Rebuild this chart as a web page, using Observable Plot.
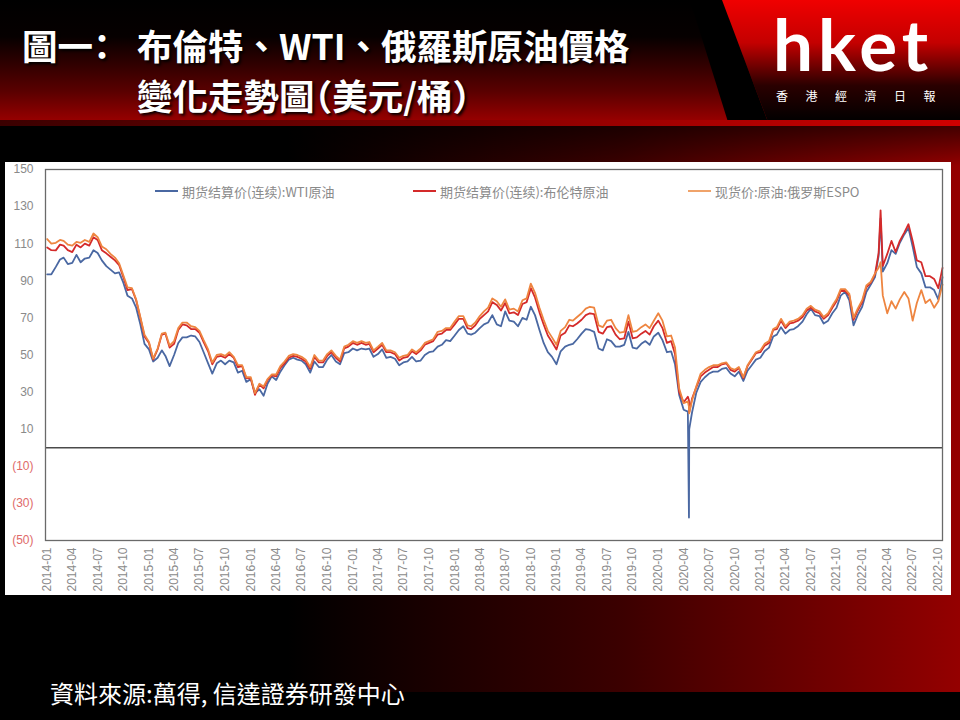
<!DOCTYPE html>
<html>
<head>
<meta charset="utf-8">
<script src="https://cdn.jsdelivr.net/npm/d3@7"></script>
<script src="https://cdn.jsdelivr.net/npm/@observablehq/plot@0.6"></script>
<style>
  html, body { margin: 0; padding: 0; background: #000; }
  #page { position: relative; width: 960px; height: 720px; overflow: hidden; background: #000; }
  #bg { position: absolute; left: 0; top: 0; }
  .title { position: absolute; color: #fff; font-family: "Noto Sans CJK TC", sans-serif; font-weight: 700;
           font-size: 35.5px; line-height: 40px; white-space: nowrap; text-shadow: 2px 2px 3px #000; }
  .halt { font-feature-settings: "halt"; }
  .logo { position: absolute; left: 773px; top: 14px; color: #fff; font-family: Lato, sans-serif;
          font-weight: 700; font-size: 71px; line-height: 60px; letter-spacing: 5px; white-space: nowrap; }
  .logosub { position: absolute; left: 776px; top: 89px; color: #fff; font-family: "Noto Sans CJK TC", sans-serif;
             font-size: 12px; line-height: 14px; letter-spacing: 17.5px; white-space: nowrap; }
  #panel { position: absolute; left: 5px; top: 162px; width: 946px; height: 433px; background: #fff; }
  .leg { position: absolute; top: 182px; height: 18px; display: flex; align-items: center;
         font-family: "Noto Sans CJK SC", sans-serif; font-size: 13px; color: #8a8a8a; white-space: nowrap; }
  .leg i { display: inline-block; width: 23px; height: 2px; margin-right: 4px; }
  .caption { position: absolute; left: 50px; top: 677px; color: #fff; font-family: "Noto Sans CJK TC", sans-serif;
             font-size: 24px; line-height: 32px; white-space: nowrap; }
</style>
</head>
<body>
<div id="page">
  <svg id="bg" width="960" height="720">
    <defs>
      <linearGradient id="hdr" x1="0" y1="0" x2="0" y2="1">
        <stop offset="0" stop-color="#000"/>
        <stop offset="0.3" stop-color="#060000"/>
        <stop offset="0.75" stop-color="#5a0000"/>
        <stop offset="1" stop-color="#9a0000"/>
      </linearGradient>
      <linearGradient id="logo" x1="0" y1="0" x2="0" y2="1">
        <stop offset="0" stop-color="#f00000"/>
        <stop offset="0.35" stop-color="#c40000"/>
        <stop offset="0.7" stop-color="#2a0000"/>
        <stop offset="1" stop-color="#000"/>
      </linearGradient>
      <linearGradient id="stripe" x1="0" y1="0" x2="1" y2="0">
        <stop offset="0" stop-color="#3a0000"/>
        <stop offset="1" stop-color="#d00000"/>
      </linearGradient>
      <linearGradient id="body" x1="0" y1="0" x2="1" y2="0">
        <stop offset="0" stop-color="#000"/>
        <stop offset="0.3" stop-color="#000"/>
        <stop offset="0.65" stop-color="#3c0000"/>
        <stop offset="1" stop-color="#940000"/>
      </linearGradient>
      <linearGradient id="topdark" x1="0" y1="0" x2="0" y2="1">
        <stop offset="0" stop-color="#000" stop-opacity="0.55"/>
        <stop offset="1" stop-color="#000" stop-opacity="0"/>
      </linearGradient>
    </defs>
    <rect x="0" y="0" width="960" height="122" fill="url(#hdr)"/>
    <polygon points="690,0 722,0 768,122 728,122" fill="#000"/>
    <polygon points="722,0 960,0 960,122 768,122" fill="url(#logo)"/>
    <rect x="0" y="120" width="960" height="6" fill="url(#stripe)"/>
    <rect x="0" y="126" width="960" height="566" fill="url(#body)"/>
    <rect x="0" y="126" width="960" height="40" fill="url(#topdark)"/>
    <rect x="0" y="692" width="960" height="28" fill="#000"/>
  </svg>

  <div class="title halt" style="left:22px; top:25px;">圖一：</div>
  <div class="title" style="left:137px; top:25px;">布倫特、WTI、俄羅斯原油價格</div>
  <div class="title halt" style="left:137px; top:75px;">變化走勢圖（美元/桶）</div>
  <div class="logo">hket</div>
  <div class="logosub">香港經濟日報</div>

  <div id="panel"></div>

  <div class="leg" style="left:155px;"><i style="background:#4a68a2"></i>期货结算价(连续):WTI原油</div>
  <div class="leg" style="left:413px;"><i style="background:#d42a2a"></i>期货结算价(连续):布伦特原油</div>
  <div class="leg" style="left:688px;"><i style="background:#f0a36a"></i>现货价:原油:俄罗斯ESPO</div>

  <div class="caption">資料來源:萬得, 信達證券研發中心</div>
</div>

<script>
// ---- Data (semi-monthly readings: 1st and 16th of each month, Jan 2014 - Oct 2022) ----
const seriesNames = ["期货结算价(连续):WTI原油", "期货结算价(连续):布伦特原油", "现货价:原油:俄罗斯ESPO"];

const brent = [
  108.0,106.5,106.4,109.5,109.0,106.5,105.5,109.5,108.0,110.0,109.0,113.5,112.0,106.5,104.8,103.0,101.0,98.5,92.0,85.0,85.5,79.5,70.0,60.0,
  56.5,47.5,53.0,61.0,61.5,54.0,56.0,63.5,66.5,66.0,64.0,64.0,62.0,57.0,52.0,45.0,49.0,49.5,48.5,50.5,48.5,43.5,44.0,37.5,
  37.3,28.5,34.0,32.0,36.5,39.0,38.5,43.0,45.5,48.5,49.5,49.0,48.0,46.5,42.5,49.0,46.0,46.0,49.5,51.5,48.5,46.5,53.5,54.5,
  56.5,55.5,56.5,55.5,56.0,51.5,53.5,55.5,51.5,51.5,50.5,47.0,48.5,49.0,52.0,50.5,52.5,55.5,56.5,57.5,61.0,61.5,63.5,63.5,
  66.5,69.5,69.5,64.5,64.0,66.0,69.5,71.5,73.5,78.5,77.0,74.0,78.0,72.5,73.0,71.5,77.5,78.5,86.0,81.0,73.0,66.5,60.5,57.0,
  53.0,60.5,62.0,66.0,65.5,67.0,69.0,71.5,72.5,72.0,62.5,61.5,65.0,65.5,61.0,58.5,59.0,68.0,59.0,59.5,61.5,63.0,61.0,65.5,
  68.5,64.5,56.5,57.5,50.5,30.0,24.5,27.5,26.5,32.5,38.5,40.5,42.0,43.5,43.5,45.0,45.5,42.0,41.0,43.0,37.5,44.0,47.5,51.0,
  51.5,55.0,56.5,63.5,64.0,68.5,64.5,67.0,67.5,68.5,70.5,74.0,75.5,73.5,72.5,69.5,71.5,75.5,79.0,84.5,84.5,82.0,69.0,74.0,
  78.5,86.5,89.0,93.5,105.0,98.0,104.5,111.5,105.5,111.5,116.0,120.5,111.5,101.0,100.0,92.5,92.5,91.0,86.0,97.0
];
const wti = [
  93.5,93.5,97.5,101.5,102.5,99.0,99.7,104.0,100.0,102.0,102.5,106.5,105.0,101.0,97.9,96.0,94.0,94.5,89.0,82.0,80.5,75.5,66.5,56.0,
  53.0,46.5,48.5,52.5,49.5,44.0,50.0,56.5,59.5,59.5,60.5,60.0,57.0,51.5,45.5,40.0,45.5,47.0,45.0,47.0,46.0,40.5,41.5,35.5,
  37.0,29.5,31.5,28.0,34.5,38.5,36.5,41.0,44.5,47.5,48.5,47.5,47.0,45.0,40.5,46.5,43.5,43.5,47.5,50.0,46.5,45.0,51.0,51.5,
  53.5,52.5,53.5,53.0,53.5,49.0,50.5,53.0,48.5,49.0,48.0,44.5,46.0,46.5,49.0,46.5,47.0,50.0,51.5,52.0,54.5,55.5,58.0,57.5,
  60.5,63.5,65.5,61.5,61.0,62.0,64.5,66.5,67.5,71.5,66.5,65.5,73.5,68.5,68.0,65.5,70.0,69.0,76.0,71.5,63.5,56.5,51.5,49.0,
  45.0,52.0,54.5,55.5,56.0,58.5,61.5,64.0,63.5,62.5,53.5,52.5,58.5,57.5,54.5,54.5,55.5,62.5,54.0,53.5,56.0,57.5,55.5,60.0,
  62.0,58.0,51.5,52.0,45.0,28.5,20.5,19.5,19.0,29.5,35.5,38.0,40.0,41.0,41.0,42.5,43.0,40.0,38.5,41.0,36.0,41.5,44.5,47.5,
  48.5,52.0,54.0,60.0,61.0,65.0,61.5,63.5,64.0,65.5,68.0,72.0,75.0,71.5,71.0,67.0,68.5,72.5,75.5,82.0,84.0,79.5,66.0,71.5,
  76.0,84.0,88.0,92.0,103.5,95.0,99.5,106.5,104.5,110.5,115.0,118.5,108.5,97.5,94.0,86.5,86.5,85.0,80.0,92.0
];
const espo = [
  112.5,110.0,110.5,112.0,111.5,109.5,109.0,111.0,110.5,112.0,111.0,115.5,113.5,108.5,107.0,104.5,102.5,99.5,93.0,86.5,86.0,80.0,70.5,61.0,
  57.0,48.0,53.5,61.5,62.0,55.0,57.5,64.5,67.5,67.5,65.5,65.0,63.0,58.0,53.0,46.0,50.0,50.5,49.5,51.5,49.0,44.5,44.5,38.0,
  38.0,29.5,34.5,33.0,37.0,39.5,39.5,44.0,46.5,49.5,50.5,50.0,49.0,47.5,43.5,50.0,47.0,47.0,50.5,52.5,49.5,47.5,54.5,55.5,
  57.5,56.5,57.5,56.5,57.0,52.5,54.5,56.5,52.5,52.5,51.5,48.5,49.5,50.0,53.0,51.5,53.5,56.5,57.5,58.5,62.5,63.0,64.5,64.5,
  68.0,71.0,71.0,66.0,65.5,67.5,71.0,73.5,75.5,80.5,79.0,76.0,80.0,74.5,75.0,73.5,79.5,80.5,88.5,83.5,75.5,69.0,63.0,59.5,
  55.5,63.0,65.0,69.0,68.5,70.5,72.5,75.0,76.0,75.5,66.0,65.0,68.5,69.0,64.5,62.0,62.5,71.5,62.5,63.0,65.0,66.5,64.5,68.5,
  72.5,68.5,60.0,60.5,54.0,32.0,24.0,25.0,25.5,33.0,40.0,42.0,43.5,44.5,44.5,45.5,46.0,43.0,42.0,43.5,38.0,44.5,48.0,51.5,
  52.5,56.0,57.5,64.0,65.0,69.5,65.5,68.0,68.5,69.5,71.5,75.0,76.5,74.5,73.5,70.5,72.5,76.5,80.0,85.5,85.5,83.0,70.0,75.0,
  79.5,87.5,89.5,94.0,97.0,82.0,72.5,79.0,75.0,80.0,84.0,80.5,68.5,78.0,85.0,78.0,80.0,75.5,79.0,88.0
];
// extra readings at notable single days
const extraDates = ["2020-04-20", "2020-04-21", "2022-03-08"];
const brentExtra = [25.6, 19.3, 128.0];
const wtiExtra = [-37.6, 10.0, 123.7];
const espoExtra = [22.0, 18.5, 100.0];

const yTicksPos = [10, 30, 50, 70, 90, 110, 130, 150];
const yTicksNeg = [-50, -30, -10];
const xTickMonths = d3.utcMonths(new Date(Date.UTC(2014, 0, 1)), new Date(Date.UTC(2022, 10, 1)), 3);

// ---- Build tables ----
const months = d3.utcMonths(new Date(Date.UTC(2014, 0, 1)), new Date(Date.UTC(2022, 10, 1)));
const dates = months.flatMap(m => [m, d3.utcDay.offset(m, 15)]);
function build(vals, extra, name) {
  const rows = dates.map((d, i) => ({date: d, value: vals[i], series: name}));
  extraDates.forEach((s, i) => rows.push({date: new Date(s + "T00:00:00Z"), value: extra[i], series: name}));
  return rows.filter(r => r.value != null).sort((a, b) => a.date - b.date);
}
const wtiRows = build(wti, wtiExtra, seriesNames[0]);
const brentRows = build(brent, brentExtra, seriesNames[1]);
const espoRows = build(espo, espoExtra, seriesNames[2]);

const gray = "#8a8a8a";
const chart = Plot.plot({
  width: 946,
  height: 433,
  marginLeft: 40,
  marginRight: 9,
  marginTop: 7,
  marginBottom: 55,
  style: {background: "#fff", fontFamily: "'Liberation Sans', Arial, sans-serif", fontSize: "12px", overflow: "visible"},
  x: {type: "utc", domain: [new Date(Date.UTC(2013, 11, 26)), new Date(Date.UTC(2022, 9, 16))]},
  y: {domain: [-50, 150]},
  marks: [
    Plot.axisY(yTicksPos, {tickSize: 0, tickPadding: 12, fill: gray, label: null, tickFormat: d => String(d)}),
    Plot.axisY(yTicksNeg, {tickSize: 0, tickPadding: 12, fill: "#e06a6a", label: null, tickFormat: d => `(${-d})`}),
    Plot.axisX(xTickMonths, {tickSize: 0, tickPadding: 7, tickRotate: -90, fill: gray, label: null, tickFormat: d3.utcFormat("%Y-%m")}),
    Plot.ruleY([0], {stroke: "#4a4a4a", strokeWidth: 1.3}),
    Plot.line(wtiRows, {x: "date", y: "value", stroke: "#4a68a2", strokeWidth: 1.8}),
    Plot.line(brentRows, {x: "date", y: "value", stroke: "#d42a2a", strokeWidth: 1.8}),
    Plot.line(espoRows, {x: "date", y: "value", stroke: "#ee8540", strokeWidth: 1.8}),
    Plot.frame({stroke: "#6a6a6a", strokeWidth: 1.3})
  ]
});
document.getElementById("panel").appendChild(chart);
</script>
</body>
</html>
